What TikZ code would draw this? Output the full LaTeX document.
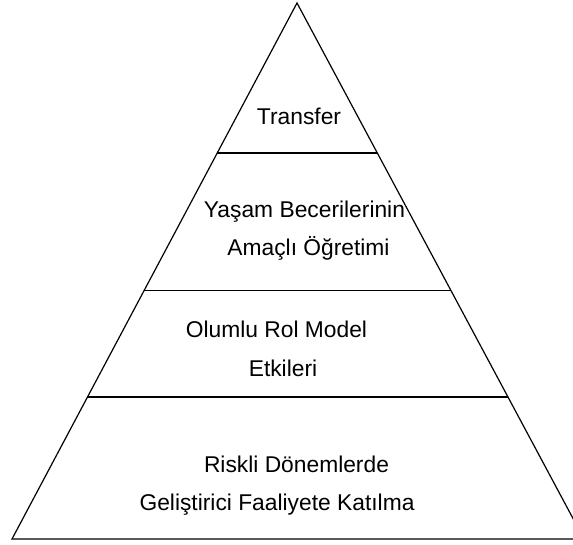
\documentclass[tikz,border=0pt]{standalone}
\usepackage{fontspec}
\setmainfont{Liberation Sans}
\usetikzlibrary{calc}

\begin{document}
\begin{tikzpicture}[x=0.5pt, y=-0.5pt, semithick,
    every node/.style={font=\fontsize{11.4}{13}\selectfont, anchor=base, inner sep=0pt}]
    \useasboundingbox (0,0) rectangle (573,545);
    \clip (0,0) rectangle (573,545);
    \coordinate (apex) at (297,3);
    \coordinate (left) at (12,539);
    \coordinate (right) at (584,539);

    \draw (apex) -- (left) -- (right) -- cycle;
    \draw ($(apex)!0.28!(left)$) -- ($(apex)!0.28!(right)$);
    \draw ($(apex)!0.537!(left)$) -- ($(apex)!0.537!(right)$);
    \draw ($(apex)!0.735!(left)$) -- ($(apex)!0.735!(right)$);

    \node (transfer) at (299,125) {Transfer};
    \node (yasam) at (304.5,218) {Yaşam Becerilerinin};
    \node (amacli) at (308.5,256) {Amaçlı Öğretimi};
    \node (olumlu) at (276.5,337) {Olumlu Rol Model};
    \node (etkileri) at (283,377) {Etkileri};
    \node (riskli) at (296.5,472) {Riskli Dönemlerde};
    \node (gelistirici) at (277,510) {Geliştirici Faaliyete Katılma};
\end{tikzpicture}
\end{document}
